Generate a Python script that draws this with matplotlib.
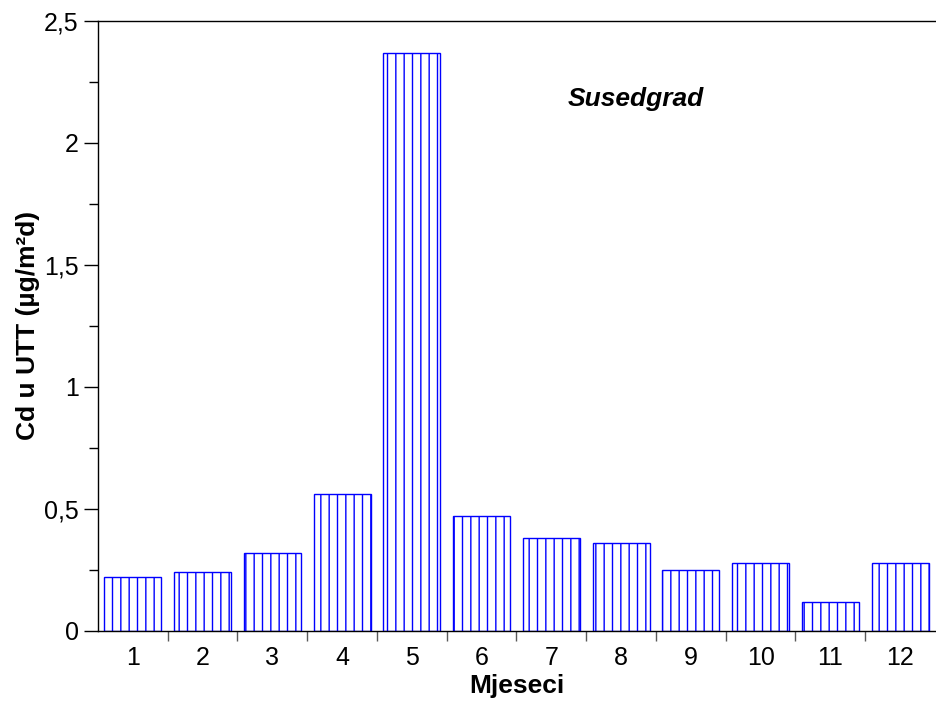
import numpy as np
import matplotlib
matplotlib.use("Agg")
import matplotlib.pyplot as plt
from matplotlib.ticker import MultipleLocator, FuncFormatter

plt.rcParams["font.family"] = ["Liberation Sans", "DejaVu Sans"]
plt.rcParams["hatch.color"] = "blue"
plt.rcParams["hatch.linewidth"] = 1.0

months = [str(m) for m in range(1, 13)]
cd_utt = [0.22, 0.24, 0.32, 0.56, 2.37, 0.47, 0.38, 0.36, 0.25, 0.28, 0.12, 0.28]
station = "Susedgrad"

fig = plt.figure(figsize=(9.36, 7.01), dpi=100)
ax = fig.add_axes([0.1047, 0.0999, 0.8942, 0.8703])

x = np.arange(len(months))
ax.bar(x, cd_utt, width=0.82, color="white", edgecolor="blue",
       hatch="||", linewidth=1.0, zorder=2)

ax.set_xlim(-0.5, len(months) - 0.5)
ax.set_ylim(0, 2.5)

# y axis: comma decimals, outward ticks
ax.yaxis.set_major_locator(MultipleLocator(0.5))
ax.yaxis.set_minor_locator(MultipleLocator(0.25))
ax.yaxis.set_major_formatter(FuncFormatter(
    lambda v, p: ("%g" % v).replace(".", ",")))
ax.tick_params(axis="y", which="major", direction="out", length=10,
               width=1, labelsize=18, pad=4)
ax.tick_params(axis="y", which="minor", direction="out", length=6.5, width=1)

# x axis: labels centred, tick marks between categories
ax.set_xticks(x)
ax.set_xticklabels(months)
ax.set_xticks(np.arange(0.5, len(months) - 0.5, 1.0), minor=True)
ax.tick_params(axis="x", which="major", length=0, labelsize=18, pad=11)
ax.tick_params(axis="x", which="minor", direction="out", length=7,
               width=1, color="0.35")

ax.spines["right"].set_visible(False)
for s in ("left", "bottom", "top"):
    ax.spines[s].set_linewidth(1.0)

ax.set_xlabel("Mjeseci", fontsize=19, fontweight="bold", labelpad=3)
ax.set_ylabel("Cd u UTT (µg/m²d)", fontsize=19, fontweight="bold", labelpad=3)

ax.text(0.5615, 0.872, station, transform=ax.transAxes, fontsize=19,
        fontweight="bold", fontstyle="italic", va="center", ha="left")

fig.savefig("out.png", dpi=100)
